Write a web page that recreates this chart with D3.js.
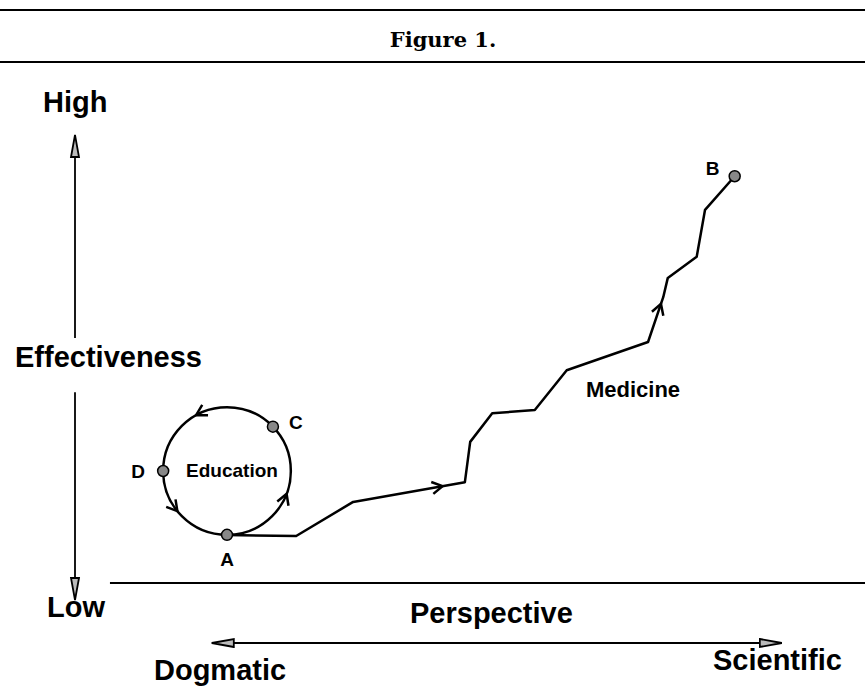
<!DOCTYPE html>
<html>
<head>
<meta charset="utf-8">
<script src="https://cdn.jsdelivr.net/npm/d3@7"></script>
<style>
body { margin: 0; background: #fff; }
</style>
</head>
<body>
<div id="chart"></div>
<script>
const width = 865;
const height = 686;
const fontFamily = "'Liberation Sans', Arial, sans-serif";

// Perspective (x) and effectiveness (y), both on a 0-10 scale
const medicineX = [2.00, 2.91, 3.66, 5.13, 5.20, 5.49, 6.05, 6.47, 7.54, 7.74, 7.80, 8.18, 8.29, 8.68];
const medicineY = [1.07, 1.05, 1.81, 2.25, 3.15, 3.79, 3.86, 4.75, 5.38, 6.38, 6.81, 7.28, 8.33, 9.08];
// arrowheads on the medicine path: [segment index, fraction along it]
const medicineArrows = [[2, 0.80], [8, 0.85]];

// Education cycle: centre and radius in x units
const cycleCenter = [2.0, 2.5];
const cycleRadius = 0.84;
const stageNames = ["A", "C", "D"];
const stageAngles = [90, -44, 180];   // degrees, screen orientation
const cycleArrowAngles = [21, -119, 141];

const endPoint = { name: "B", x: 8.68, y: 9.08 };

// Scales
const x = d3.scaleLinear().domain([0, 10]).range([75, 835]);
const y = d3.scaleLinear().domain([0, 10]).range([583, 135]);

const svg = d3.select("#chart").append("svg")
    .attr("width", width)
    .attr("height", height);

// Arrow markers for the axes
const defs = svg.append("defs");
defs.append("marker")
    .attr("id", "axis-head")
    .attr("markerUnits", "userSpaceOnUse")
    .attr("viewBox", "-1 -6 24 12")
    .attr("refX", 22)
    .attr("refY", 0)
    .attr("markerWidth", 24)
    .attr("markerHeight", 12)
    .attr("orient", "auto-start-reverse")
    .append("path")
    .attr("d", "M0,-4L22,0L0,4Z")
    .attr("fill", "#bbb")
    .attr("stroke", "#000")
    .attr("stroke-width", 1.8);

// Header rules and title
svg.append("line")
    .attr("x1", 0).attr("x2", width)
    .attr("y1", 10).attr("y2", 10)
    .attr("stroke", "#000").attr("stroke-width", 2);
svg.append("line")
    .attr("x1", 0).attr("x2", width)
    .attr("y1", 62).attr("y2", 62)
    .attr("stroke", "#000").attr("stroke-width", 2);
svg.append("text")
    .attr("x", 443)
    .attr("y", 47)
    .attr("text-anchor", "middle")
    .attr("font-family", "'DejaVu Serif', serif")
    .attr("font-weight", "bold")
    .attr("font-size", "21px")
    .text("Figure 1.");

// Vertical effectiveness axis (split by its label)
svg.append("line")
    .attr("x1", 75).attr("x2", 75)
    .attr("y1", y(5.47)).attr("y2", y(10))
    .attr("stroke", "#000").attr("stroke-width", 1.8)
    .attr("marker-end", "url(#axis-head)");
svg.append("line")
    .attr("x1", 75).attr("x2", 75)
    .attr("y1", y(4.26)).attr("y2", y(-0.38))
    .attr("stroke", "#000").attr("stroke-width", 1.8)
    .attr("marker-end", "url(#axis-head)");

// Baseline
svg.append("line")
    .attr("x1", x(0.46)).attr("x2", width)
    .attr("y1", y(0)).attr("y2", y(0))
    .attr("stroke", "#000").attr("stroke-width", 2);

// Perspective double arrow
svg.append("line")
    .attr("x1", x(1.80)).attr("x2", x(9.30))
    .attr("y1", 643).attr("y2", 643)
    .attr("stroke", "#000").attr("stroke-width", 2)
    .attr("marker-start", "url(#axis-head)")
    .attr("marker-end", "url(#axis-head)");

// Axis words
const bigLabels = [
    { text: "High", x: 43, y: 112 },
    { text: "Effectiveness", x: 15, y: 367 },
    { text: "Low", x: 47, y: 617 },
    { text: "Perspective", x: 410, y: 623 },
    { text: "Dogmatic", x: 154, y: 680 },
    { text: "Scientific", x: 713, y: 670 }
];
svg.append("g")
    .selectAll("text")
    .data(bigLabels)
    .enter()
    .append("text")
    .attr("x", d => d.x)
    .attr("y", d => d.y)
    .attr("font-family", fontFamily)
    .attr("font-weight", "bold")
    .attr("font-size", "29px")
    .text(d => d.text);

// Chevron arrowhead pointing along angle (radians)
function chevron(g, px, py, angle) {
    const len = 12;
    const spread = Math.PI / 6;
    const p1 = [px - len * Math.cos(angle - spread), py - len * Math.sin(angle - spread)];
    const p2 = [px - len * Math.cos(angle + spread), py - len * Math.sin(angle + spread)];
    g.append("path")
        .attr("d", `M${p1[0]},${p1[1]}L${px},${py}L${p2[0]},${p2[1]}`)
        .attr("fill", "none")
        .attr("stroke", "#000")
        .attr("stroke-width", 2.5);
}

// Medicine path
const medicine = medicineX.map((v, i) => [x(v), y(medicineY[i])]);
const pathG = svg.append("g");
pathG.append("path")
    .attr("d", d3.line()(medicine))
    .attr("fill", "none")
    .attr("stroke", "#000")
    .attr("stroke-width", 2.5)
    .attr("stroke-linejoin", "round");

medicineArrows.forEach(([s, t]) => {
    const a = medicine[s], b = medicine[s + 1];
    const px = a[0] + (b[0] - a[0]) * t;
    const py = a[1] + (b[1] - a[1]) * t;
    chevron(pathG, px, py, Math.atan2(b[1] - a[1], b[0] - a[0]));
});

// Education cycle
const cx = x(cycleCenter[0]);
const cy = y(cycleCenter[1]);
const r = x(cycleRadius) - x(0);
const rad = d => d * Math.PI / 180;

const cycleG = svg.append("g");
cycleG.append("circle")
    .attr("cx", cx).attr("cy", cy).attr("r", r)
    .attr("fill", "none")
    .attr("stroke", "#000")
    .attr("stroke-width", 2.5);

// travel is counterclockwise on screen, so the tangent is (sin, -cos)
cycleArrowAngles.forEach(a => {
    const t = rad(a);
    chevron(cycleG, cx + r * Math.cos(t), cy + r * Math.sin(t),
        Math.atan2(-Math.cos(t), Math.sin(t)));
});

// Stage dots and letters
const stages = stageNames.map((name, i) => ({
    name: name,
    x: cx + r * Math.cos(rad(stageAngles[i])),
    y: cy + r * Math.sin(rad(stageAngles[i]))
}));
stages.push({ name: endPoint.name, x: x(endPoint.x), y: y(endPoint.y) });

const letterOffset = { A: [0, 31], B: [-22, -1], C: [23, 2], D: [-25, 7] };

svg.append("g")
    .selectAll("circle")
    .data(stages)
    .enter()
    .append("circle")
    .attr("cx", d => d.x)
    .attr("cy", d => d.y)
    .attr("r", 5.5)
    .attr("fill", "#888")
    .attr("stroke", "#000")
    .attr("stroke-width", 1.5);

svg.append("g")
    .selectAll("text")
    .data(stages)
    .enter()
    .append("text")
    .attr("x", d => d.x + letterOffset[d.name][0])
    .attr("y", d => d.y + letterOffset[d.name][1])
    .attr("text-anchor", "middle")
    .attr("font-family", fontFamily)
    .attr("font-weight", "bold")
    .attr("font-size", "19px")
    .text(d => d.name);

// Path names
svg.append("text")
    .attr("x", 232)
    .attr("y", 477)
    .attr("text-anchor", "middle")
    .attr("font-family", fontFamily)
    .attr("font-weight", "bold")
    .attr("font-size", "19px")
    .text("Education");

svg.append("text")
    .attr("x", 633)
    .attr("y", 397)
    .attr("text-anchor", "middle")
    .attr("font-family", fontFamily)
    .attr("font-weight", "bold")
    .attr("font-size", "22px")
    .text("Medicine");
</script>
</body>
</html>
